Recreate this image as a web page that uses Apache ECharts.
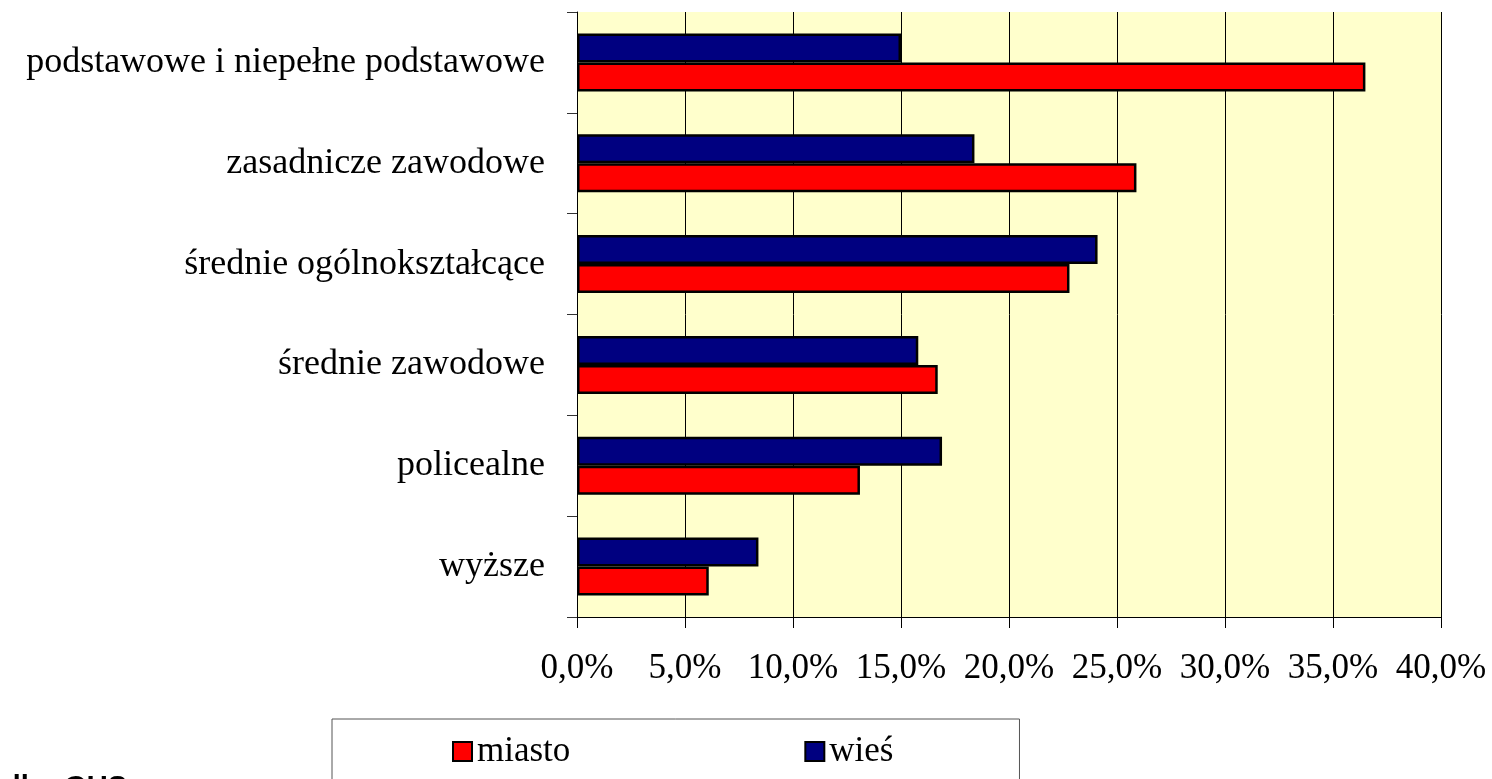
<!DOCTYPE html>
<html>
<head>
<meta charset="utf-8">
<title>Wykształcenie - miasto / wieś</title>
<script src="https://cdn.jsdelivr.net/npm/echarts@6/dist/echarts.min.js"></script>
<style>
  html, body { margin: 0; padding: 0; background: #fff; }
  #chart { width: 1492px; height: 779px; }
</style>
</head>
<body>
<div id="chart"></div>
<script>
  // kategorie (od góry)
  const categories = [
    'podstawowe i niepełne podstawowe',
    'zasadnicze zawodowe',
    'średnie ogólnokształcące',
    'średnie zawodowe',
    'policealne',
    'wyższe'
  ];
  // udział w %
  const miasto = [36.5, 25.9, 22.8, 16.7, 13.1, 6.1];
  const wies = [15.0, 18.4, 24.1, 15.8, 16.9, 8.4];
  const seriesNames = ['miasto', 'wieś'];
  const sourceText = 'Źródło: GUS';

  const font = 'Liberation Serif, Times New Roman, serif';

  const chart = echarts.init(document.getElementById('chart'));
  const option = {
    animation: false,
    textStyle: { fontFamily: font },
    grid: {
      left: 577,
      top: 12,
      width: 864,
      height: 605,
      show: true,
      backgroundColor: '#FFFFCC',
      borderWidth: 0
    },
    legend: {
      data: seriesNames,
      left: 332,
      top: 719,
      padding: [15, 126, 40, 120],
      itemGap: 234,
      itemWidth: 19,
      itemHeight: 19,
      icon: 'rect',
      borderColor: '#555',
      borderWidth: 1,
      itemStyle: { borderColor: '#000', borderWidth: 2 },
      textStyle: { fontFamily: font, fontSize: 35, color: '#000' }
    },
    xAxis: {
      type: 'value',
      min: 0,
      max: 40,
      interval: 5,
      axisLine: { show: true, lineStyle: { color: '#000', width: 1 } },
      axisTick: { show: true, length: 11, lineStyle: { color: '#000' } },
      splitLine: { show: true, lineStyle: { color: '#000', width: 1 } },
      axisLabel: {
        margin: 34,
        fontSize: 35,
        color: '#000',
        fontFamily: font,
        formatter: function (v) {
          return v.toFixed(1).replace('.', ',') + '%';
        }
      }
    },
    yAxis: {
      type: 'category',
      data: categories,
      inverse: true,
      axisLine: { show: true, lineStyle: { color: '#000', width: 1 } },
      axisTick: { show: true, length: 10, lineStyle: { color: '#333' } },
      axisLabel: { margin: 32, fontSize: 36, color: '#000', fontFamily: font }
    },
    series: [
      {
        name: 'wieś',
        type: 'bar',
        data: wies,
        barWidth: 29,
        barGap: '0%',
        itemStyle: { color: '#000080', borderColor: '#000', borderWidth: 2.5 }
      },
      {
        name: 'miasto',
        type: 'bar',
        data: miasto,
        barWidth: 29,
        barGap: '0%',
        itemStyle: { color: '#FF0000', borderColor: '#000', borderWidth: 2.5 }
      }
    ],
    graphic: [
      {
        type: 'text',
        right: 1492 - 127,
        top: 773,
        style: {
          text: sourceText,
          fontFamily: 'Liberation Sans, Arial, sans-serif',
          fontSize: 29,
          fontWeight: 'bold',
          fill: '#000'
        }
      }
    ]
  };
  chart.setOption(option);
</script>
</body>
</html>
